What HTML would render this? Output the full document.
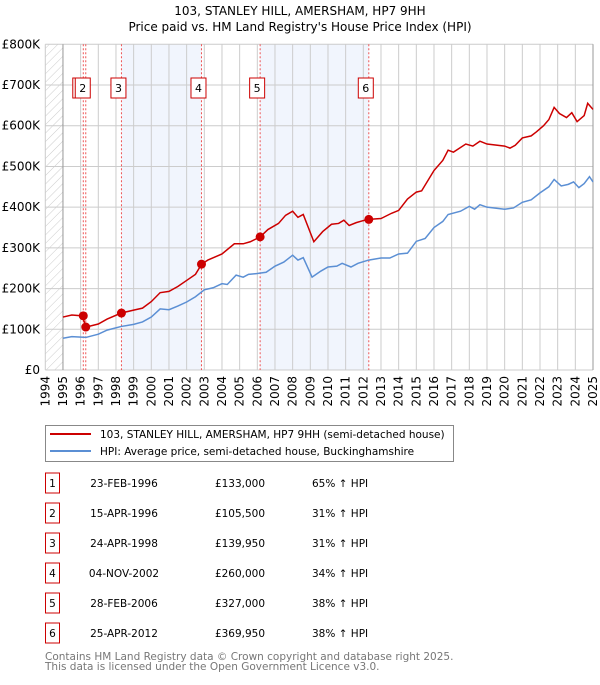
<!DOCTYPE html>
<html><head><meta charset="utf-8"><style>
body{margin:0;background:#fff;font-family:"Liberation Sans","DejaVu Sans",sans-serif}
svg text{font-family:"DejaVu Sans","Liberation Sans",sans-serif}
</style></head><body>
<svg id="c" width="600" height="680" xmlns="http://www.w3.org/2000/svg">
<defs><pattern id="hatch" width="6" height="6" patternUnits="userSpaceOnUse" patternTransform="rotate(45)"><line x1="0" y1="0" x2="0" y2="6" stroke="#ccc" stroke-width="1"/></pattern></defs>
<text x="300" y="15" text-anchor="middle" font-size="12">103, STANLEY HILL, AMERSHAM, HP7 9HH</text>
<text x="300" y="31" text-anchor="middle" font-size="12">Price paid vs. HM Land Registry's House Price Index (HPI)</text>
<g id="plot"></g>
<g>
<rect x="45.5" y="425.5" width="408" height="36" fill="#fff" stroke="#888"/>
<line x1="50" y1="434" x2="91" y2="434" stroke="#cc0000" stroke-width="2"/>
<text x="100" y="438" font-size="10.5">103, STANLEY HILL, AMERSHAM, HP7 9HH (semi-detached house)</text>
<line x1="50" y1="451" x2="91" y2="451" stroke="#5b8fd4" stroke-width="2"/>
<text x="100" y="455" font-size="10.5">HPI: Average price, semi-detached house, Buckinghamshire</text>
</g>
<g id="table"></g>
<text x="45" y="660" font-size="10.5" fill="#777">Contains HM Land Registry data © Crown copyright and database right 2025.</text>
<text x="45" y="670" font-size="10.5" fill="#777">This data is licensed under the Open Government Licence v3.0.</text>
</svg>
<script>
const years=[1994,1995,1996,1997,1998,1999,2000,2001,2002,2003,2004,2005,2006,2007,2008,2009,2010,2011,2012,2013,2014,2015,2016,2017,2018,2019,2020,2021,2022,2023,2024,2025];
const yTicks=[0,100000,200000,300000,400000,500000,600000,700000,800000];
const yTickLabels=["£0","£100K","£200K","£300K","£400K","£500K","£600K","£700K","£800K"];
const redT=[1995.0,1995.5,1996.1,1996.3,1997,1997.5,1998.3,1999,1999.5,2000,2000.5,2001,2001.5,2002,2002.5,2002.85,2003.2,2004,2004.7,2005.2,2005.6,2006.16,2006.6,2007.2,2007.6,2008,2008.3,2008.6,2009.2,2009.7,2010.2,2010.6,2010.9,2011.2,2011.6,2012.0,2012.3,2013,2013.6,2014,2014.5,2015,2015.3,2016,2016.5,2016.8,2017.1,2017.8,2018.2,2018.6,2019,2020,2020.3,2020.6,2021,2021.5,2021.8,2022.2,2022.5,2022.8,2023.1,2023.5,2023.8,2024.1,2024.5,2024.7,2025.0];
const redV=[130,135,133,105.5,113,125,140,147,152,168,190,193,205,220,235,260,270,285,310,310,315,327,345,360,380,390,375,382,315,340,358,360,368,355,362,367,370,372,385,392,420,437,440,490,515,540,535,555,550,562,555,550,545,552,570,575,585,600,615,645,630,620,632,610,625,655,640];
const blueT=[1995,1995.5,1996.3,1997,1997.5,1998.3,1999,1999.5,2000,2000.5,2001,2001.5,2002,2002.5,2003,2003.5,2004,2004.3,2004.8,2005.2,2005.5,2006,2006.5,2007,2007.5,2008,2008.3,2008.6,2009.1,2009.6,2010,2010.5,2010.8,2011.3,2011.7,2012.3,2013,2013.5,2014,2014.5,2015,2015.5,2016,2016.5,2016.8,2017.5,2018,2018.3,2018.6,2019,2020,2020.5,2021,2021.5,2022,2022.5,2022.8,2023.2,2023.6,2023.9,2024.2,2024.5,2024.8,2025];
const blueV=[78,82,80,88,98,107,112,118,130,150,148,157,167,180,197,202,212,210,233,228,235,237,240,255,265,282,270,276,228,243,253,255,262,253,262,270,275,275,285,287,316,323,350,365,382,390,402,395,406,400,395,398,412,418,435,450,468,452,456,462,448,458,475,462];
const saleLabels=["1","2","3","4","5","6"];
const saleT=[1996.15,1996.29,1998.31,2002.84,2006.16,2012.31];
const saleV=[133000,105500,139950,260000,327000,369950];
const saleDates=["23-FEB-1996","15-APR-1996","24-APR-1998","04-NOV-2002","28-FEB-2006","25-APR-2012"];
const salePrices=["£133,000","£105,500","£139,950","£260,000","£327,000","£369,950"];
const saleHpi=["65% ↑ HPI","31% ↑ HPI","31% ↑ HPI","34% ↑ HPI","38% ↑ HPI","38% ↑ HPI"];

const X0=45.3,X1=593,Y0=370,Y1=44.3;
const sx=t=>X0+(t-1994)/(2025-1994)*(X1-X0);
const sy=v=>Y0-v/800000*(Y0-Y1);
const NS="http://www.w3.org/2000/svg";
const plot=document.getElementById('plot');
function mk(tag,attrs,parent){const e=document.createElementNS(NS,tag);for(const k in attrs)e.setAttribute(k,attrs[k]);(parent||plot).appendChild(e);return e;}

// shaded bands
[[2,3],[4,5]].forEach(([a,b],i)=>{
 const r=mk('rect',{x:sx(saleT[a]),y:Y1,width:sx(saleT[b])-sx(saleT[a]),height:Y0-Y1,fill:'#eef3fd',opacity:0.8});
 
 
});
const h=mk('rect',{x:X0,y:Y1,width:sx(1995)-X0,height:Y0-Y1,fill:'url(#hatch)'});


// grid
years.forEach(y=>{
 const l=mk('line',{x1:sx(y),x2:sx(y),y1:Y1,y2:Y0,stroke:'#ccc','stroke-width':1});
 
 
 const t=mk('text',{x:0,y:0,'font-size':12,'text-anchor':'end',transform:`translate(${sx(y)+4},376) rotate(-90)`});
 t.textContent=y;
 
 
});
yTicks.forEach((v,i)=>{
 const l=mk('line',{x1:X0,x2:X1,y1:sy(v),y2:sy(v),stroke:'#ccc','stroke-width':1});
 
 
 const t=mk('text',{x:40,y:sy(v)+4,'font-size':12,'text-anchor':'end'});
 t.textContent=yTickLabels[i];
 
 
});
const ax=mk('line',{x1:sx(1995),x2:sx(1995),y1:Y1,y2:Y0,stroke:'#999'});


const ax2=mk('line',{x1:X1,x2:X1,y1:Y1,y2:Y0,stroke:'#999'});


// sale lines
saleT.forEach((t,i)=>{
 const l=mk('line',{x1:sx(t),x2:sx(t),y1:Y1,y2:Y0,stroke:'#e55','stroke-width':1,'stroke-dasharray':'2,2'});
 
 
});
// series
const bp=mk('polyline',{points:blueT.map((t,i)=>sx(t)+','+sy(blueV[i]*1000)).join(' '),fill:'none',stroke:'#5b8fd4','stroke-width':1.5});


const rp=mk('polyline',{points:redT.map((t,i)=>sx(t)+','+sy(redV[i]*1000)).join(' '),fill:'none',stroke:'#cc0000','stroke-width':1.5});


saleT.forEach((t,i)=>{
 const c=mk('circle',{cx:sx(t),cy:sy(saleV[i]),r:4.5,fill:'#cc0000'});
 
 
});
saleT.forEach((t,i)=>{
 const g=mk('g',{});
 
 
 mk('rect',{x:sx(t)-3-7.5,y:78,width:15,height:20,fill:'#fff',stroke:'#cc0000'},g);
 const tx=mk('text',{x:sx(t)-3,y:92,'font-size':11,'text-anchor':'middle'},g);
 tx.textContent=saleLabels[i];
});
// table
const tb=document.getElementById('table');
saleLabels.forEach((s,i)=>{
 const cy=483+i*30;
 const g=mk('g',{},tb);
 
 
 mk('rect',{x:45.5,y:cy-10,width:14,height:20,fill:'#fff',stroke:'#cc0000'},g);
 const cells=[[52.5,'middle',s],[124,'middle',saleDates[i]],[240,'middle',salePrices[i]],[312,'start',saleHpi[i]]];
 cells.forEach(c=>{const t=mk('text',{x:c[0],y:cy+4,'font-size':10.5,'text-anchor':c[1]},g);t.textContent=c[2];});
});
</script>
</body></html>
